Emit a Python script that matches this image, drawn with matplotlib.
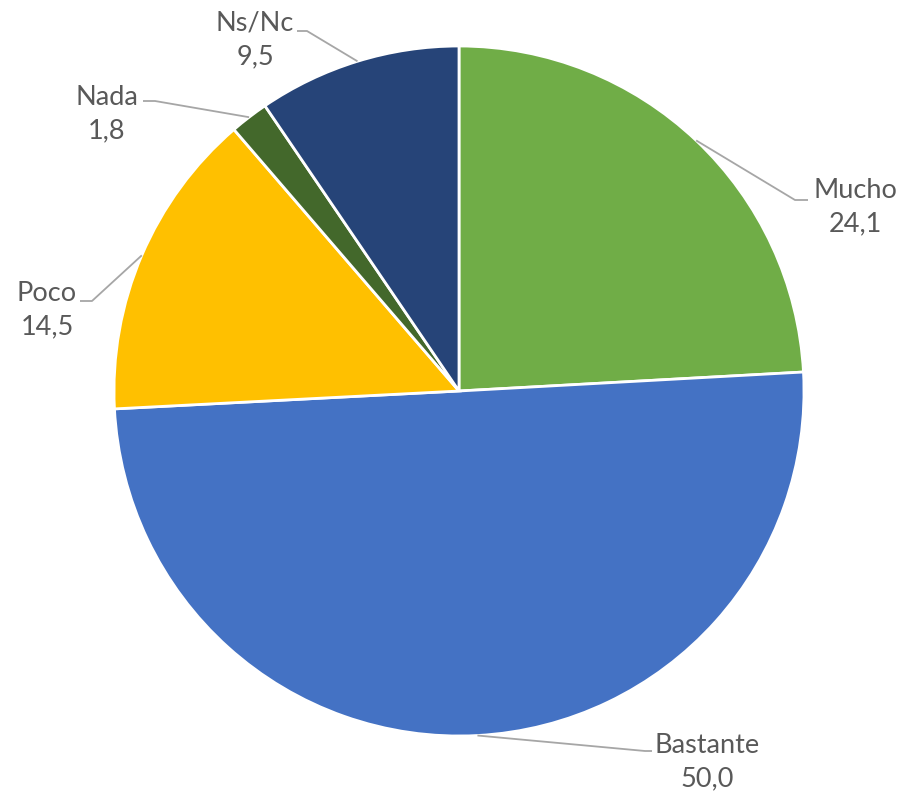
import numpy as np
import matplotlib.pyplot as plt

labels = ['Mucho', 'Bastante', 'Poco', 'Nada', 'Ns/Nc']
values = [24.1, 50.0, 14.5, 1.8, 9.5]
value_text = ['24,1', '50,0', '14,5', '1,8', '9,5']
colors = ['#70AD47', '#4472C4', '#FFC000', '#43682B', '#264478']

W, H = 902, 794
# label placement in pixel coords (x, y from top): text centre, elbow, line end
text_pos = [(855, 207), (707, 762), (47, 310), (107, 114), (255, 40)]
elbow = [(795, 200), (645, 751), (92, 301), (155, 101), (307, 31)]
line_end = [(808, 200), (652, 751), (80, 301), (143, 101), (297, 31)]

cx, cy, r = 459, 391, 345

fig = plt.figure(figsize=(W / 100, H / 100), dpi=100)
ax = fig.add_axes([0, 0, 1, 1])
ax.set_xlim(0, W)
ax.set_ylim(0, H)
ax.set_aspect('equal')
ax.axis('off')

wedges, _ = ax.pie(values, colors=colors, startangle=90, counterclock=False,
                   center=(cx, H - cy), radius=r,
                   wedgeprops=dict(edgecolor='white', linewidth=2))
ax.set_xlim(0, W)
ax.set_ylim(0, H)

for w, lab, vt, tp, el, le in zip(wedges, labels, value_text, text_pos, elbow, line_end):
    mid = np.deg2rad((w.theta1 + w.theta2) / 2)
    ax_ = cx + r * np.cos(mid)
    ay_ = (H - cy) + r * np.sin(mid)
    ax.plot([ax_, el[0], le[0]], [ay_, H - el[1], H - le[1]],
            color='#A6A6A6', lw=1.3, solid_capstyle='butt')
    ax.text(tp[0], H - tp[1], lab + '\n' + vt, ha='center', va='center',
            fontsize=19.5, color='#595959', family='Lato', linespacing=1.4)

fig.savefig('out.png', dpi=100)
